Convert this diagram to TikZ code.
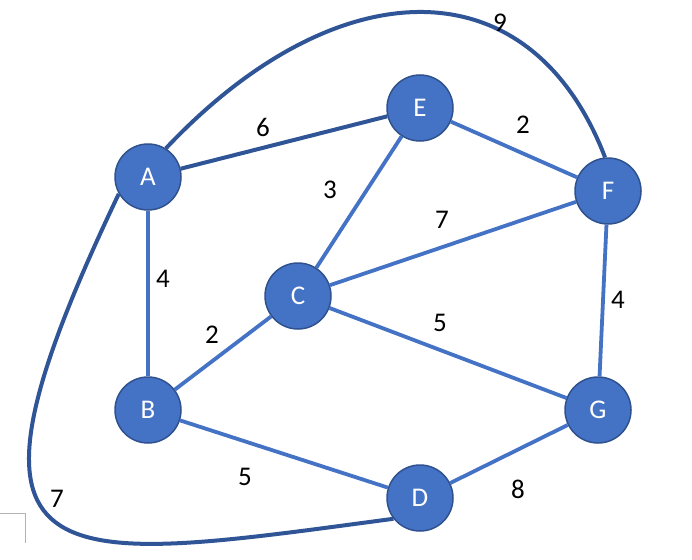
\documentclass[tikz,border=0pt]{standalone}
\usepackage{fontspec}
\setmainfont{Carlito}
\definecolor{nodeblue}{HTML}{4472C4}
\definecolor{rimblue}{HTML}{2F528F}
\definecolor{darkblue}{HTML}{2F5597}
\tikzset{
    vertex/.style={circle, fill=nodeblue, draw=rimblue, line width=1.5pt, minimum size=66pt, inner sep=0pt, text=white, font=\fontsize{27}{30}\selectfont},
    edge/.style={draw=nodeblue, line width=3.8pt},
    darkedge/.style={draw=darkblue, line width=4pt},
    weight/.style={font=\fontsize{27}{30}\selectfont, text=black},
}
\begin{document}
\begin{tikzpicture}[x=1pt, y=-1pt]  % 以像素为单位

    \useasboundingbox (0,0) rectangle (692,559); % 固定画幅

    % 绘制七个顶点
    \node[vertex] (A) at (148,177) {A};
    \node[vertex] (E) at (420,108) {E};
    \node[vertex] (F) at (608,191) {F};
    \node[vertex] (C) at (298,296) {C};
    \node[vertex] (B) at (148,410) {B};
    \node[vertex] (G) at (598,410) {G};
    \node[vertex] (D) at (420,498) {D};

    % 绘制直线边
    \draw[darkedge] (A) -- (E); % A到E
    \draw[edge] (E) -- (F); % E到F
    \draw[edge] (A) -- (B); % A到B
    \draw[edge] (E) -- (C); % E到C
    \draw[edge] (C) -- (F); % C到F
    \draw[edge] (B) -- (C); % B到C
    \draw[edge] (C) -- (G); % C到G
    \draw[edge] (F) -- (G); % F到G
    \draw[edge] (B) -- (D); % B到D
    \draw[edge] (D) -- (G); % D到G

    % 绘制两条弯曲的边
    \draw[darkedge] (A.58) .. controls (334,-30) and (529,-40) .. (F.95); % 从 A 到 F
    \draw[darkedge] (A.210) .. controls (-70,590) and (47,565) .. (D.218); % 从 A 到 D

    % 左下角的灰色折线
    \draw[gray!60, line width=0.8pt] (0,513) -- (25,513) -- (25,543);

    % 权重标签
    \node[weight] (wAF) at (500,23) {9};
    \node[weight] (wAE) at (263,127) {6};
    \node[weight] (wEF) at (523,125) {2};
    \node[weight] (wEC) at (330,190) {3};
    \node[weight] (wCF) at (442,220) {7};
    \node[weight] (wAB) at (163,279) {4};
    \node[weight] (wBC) at (212,335) {2};
    \node[weight] (wCG) at (440,323) {5};
    \node[weight] (wFG) at (618,300) {4};
    \node[weight] (wBD) at (245,477) {5};
    \node[weight] (wDG) at (518,489) {8};
    \node[weight] (wAD) at (57,499) {7};

\end{tikzpicture}
\end{document}
